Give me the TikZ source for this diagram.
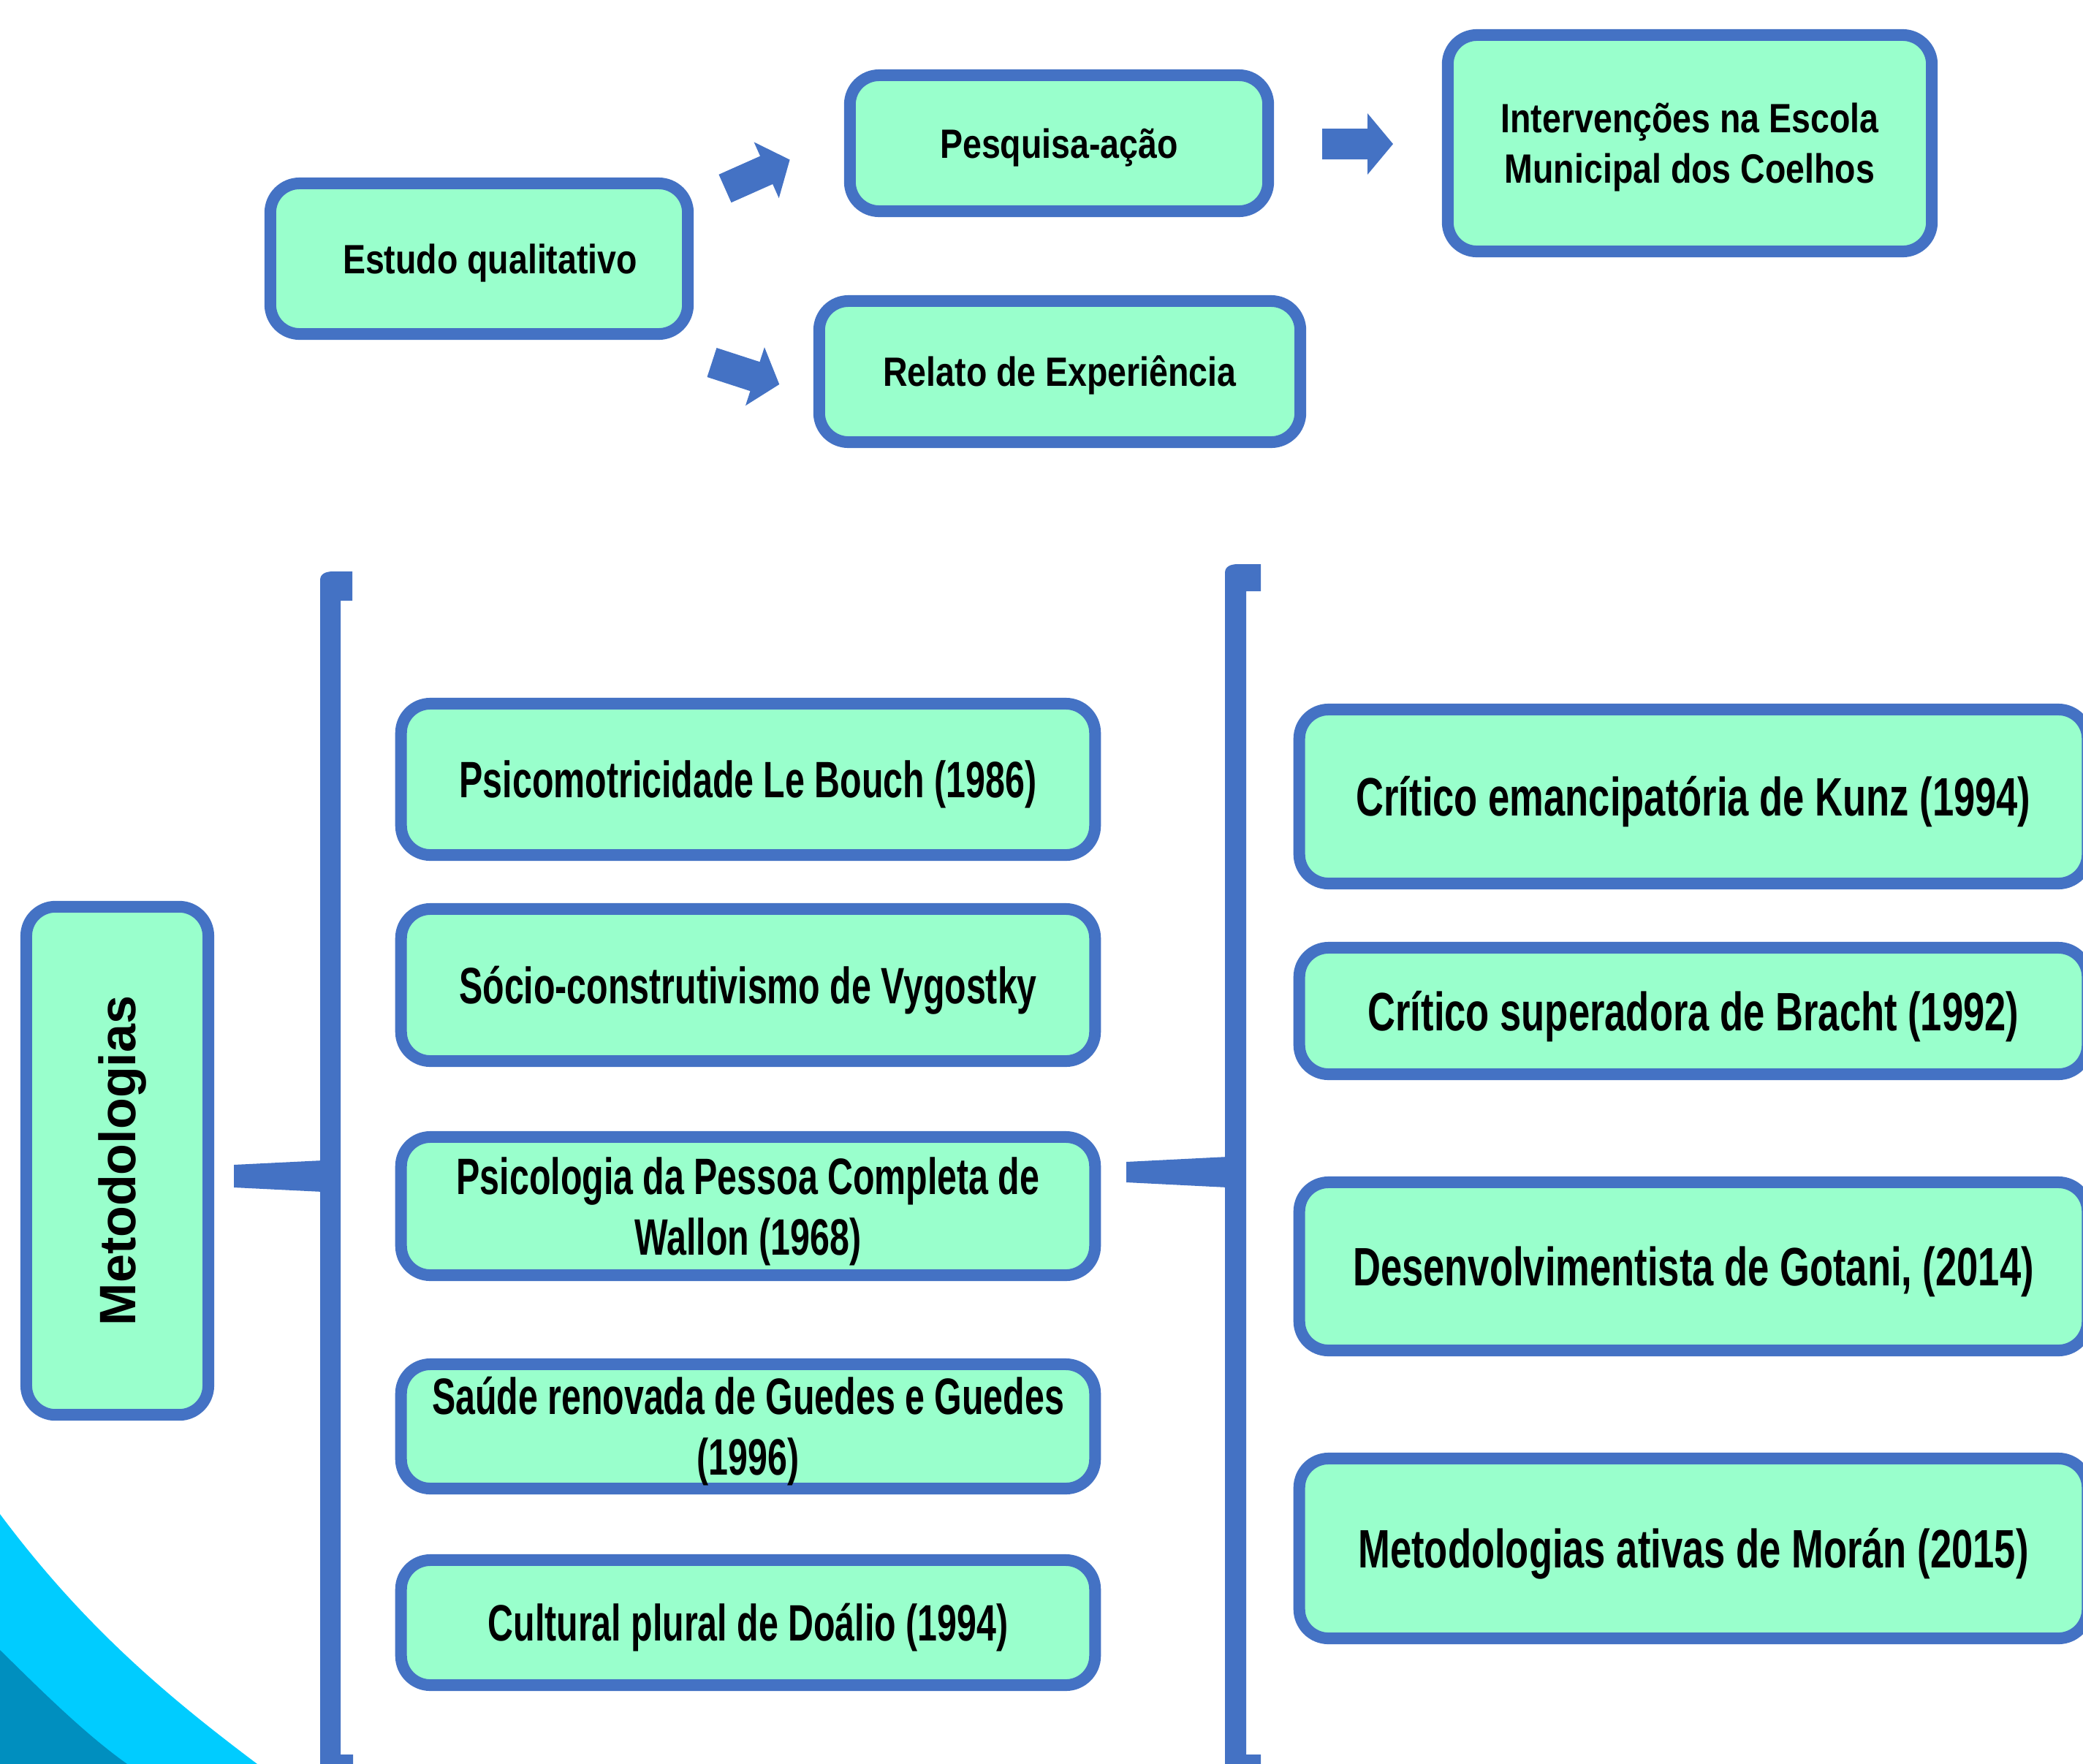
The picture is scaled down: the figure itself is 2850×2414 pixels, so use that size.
\documentclass[tikz,border=0pt]{standalone}
\usepackage{fontspec}
\usepackage{graphicx}
\usetikzlibrary{calc}
\setmainfont{Liberation Sans}
\newfontfamily\topfont[FakeStretch=0.83]{Liberation Sans}
\newfontfamily\leftfont[FakeStretch=0.69]{Liberation Sans}
\newfontfamily\rightfont[FakeStretch=0.71]{Liberation Sans}
\definecolor{boxblue}{HTML}{4472C4}
\definecolor{boxgreen}{HTML}{99FFCC}
\definecolor{decocyan}{HTML}{00CCFF}
\definecolor{decodark}{HTML}{008FBF}
\begin{document}
\begin{tikzpicture}[x=0.01cm,y=-0.01cm,
  box/.style={draw=boxblue, fill=boxgreen, line width=0.16cm, rounded corners=0.4cm,
    align=center, inner sep=0pt},
  toptxt/.style={font={\topfont\bfseries\fontsize{15.93pt}{19.35pt}\selectfont},
    text height=0.50cm, text depth=0.10cm},
  toptwo/.style={toptxt, text height=1.18cm},
  lefttxt/.style={font={\leftfont\bfseries\fontsize{19.92pt}{23.6pt}\selectfont},
    text height=0.63cm, text depth=0.13cm},
  lefttwo/.style={lefttxt, text height=1.46cm},
  righttxt/.style={font={\rightfont\bfseries\fontsize{21.05pt}{25pt}\selectfont},
    text height=0.666cm, text depth=0.136cm},
  metotxt/.style={font={\bfseries\fontsize{19.92pt}{24pt}\selectfont}},
  blockarrow/.pic={\fill[boxblue] (0,-21) -- (62,-21) -- (62,-42) -- (97,0) -- (62,42) -- (62,21) -- (0,21) -- cycle;}
]
\useasboundingbox (0,0) rectangle (2850,2414);
\fill[white] (0,0) rectangle (2850,2414);

% corner decoration
\fill[decocyan] (0,2072) .. controls (117,2229) and (235,2326) .. (352,2414) -- (0,2414) -- cycle;
\fill[decodark] (0,2258) .. controls (55,2312) and (115,2372) .. (174,2414) -- (0,2414) -- cycle;

% top row
\node[box, toptxt, minimum width=5.71cm, minimum height=2.06cm] (estudo) at (655.5,354) {\hspace{0.3cm}Estudo qualitativo};
\node[box, toptxt, minimum width=5.72cm, minimum height=1.86cm] (pesq) at (1449,196) {Pesquisa-ação};
\node[box, toptxt, minimum width=6.58cm, minimum height=1.93cm] (relato) at (1450,508.5) {Relato de Experiência};
\node[box, toptwo, minimum width=6.62cm, minimum height=2.96cm] (interv) at (2312,196) {Intervenções na Escola\\Municipal dos Coelhos};

\pic[rotate=24] at (992,258) {blockarrow};
\pic[rotate=-18] at (974,496) {blockarrow};
\pic at ($(pesq.east)!0.5!(interv.west)+(-49,1)$) {blockarrow};

% Metodologias
\node[box, metotxt, minimum width=2.49cm, minimum height=6.95cm] (meto) at (160.5,1588.5) {\rotatebox{90}{\raisebox{0pt}[0.63cm][0.13cm]{Metodologias}}};

% left column
\node[box, lefttxt, minimum width=9.49cm, minimum height=2.07cm] (l1) at (1023.5,1066.5) {Psicomotricidade Le Bouch (1986)};
\node[box, lefttxt, minimum width=9.49cm, minimum height=2.08cm] (l2) at (1023.5,1348) {Sócio-construtivismo de Vygostky};
\node[box, lefttwo, minimum width=9.49cm, minimum height=1.89cm] (l3) at (1023.5,1650.5) {Psicologia da Pessoa Completa de\\Wallon (1968)};
\node[box, lefttwo, minimum width=9.49cm, minimum height=1.70cm] (l4) at (1023.5,1952) {Saúde renovada de Guedes e Guedes\\(1996)};
\node[box, lefttxt, minimum width=9.49cm, minimum height=1.71cm] (l5) at (1023.5,2220.5) {Cultural plural de Doálio (1994)};

% right column
\node[box, righttxt, minimum width=10.78cm, minimum height=2.38cm] (r1) at (2317,1090) {Crítico emancipatória de Kunz (1994)};
\node[box, righttxt, minimum width=10.78cm, minimum height=1.73cm] (r2) at (2317,1383.5) {Crítico superadora de Bracht (1992)};
\node[box, righttxt, minimum width=10.78cm, minimum height=2.30cm] (r3) at (2317,1733) {Desenvolvimentista de Gotani, (2014)};
\node[box, righttxt, minimum width=10.78cm, minimum height=2.46cm] (r4) at (2317,2119) {Metodologias ativas de Morán (2015)};

% brackets
\fill[boxblue] (438,2440) -- (438,794) .. controls (438,785) and (446,782) .. (456,782) -- (482,782) -- (482,822) -- (466,822) -- (466,2401) -- (483,2401) -- (483,2440) -- cycle;
\fill[boxblue] (1676,2440) -- (1676,784) .. controls (1676,775) and (1684,772) .. (1694,772) -- (1725,772) -- (1725,809) -- (1705,809) -- (1705,2401) -- (1725,2401) -- (1725,2440) -- cycle;

% connectors
\coordinate (lbar) at (438,1609.5);
\coordinate (mstart) at (1541,1604);
\coordinate (rbar) at (1676,1604);
\fill[boxblue] ($(meto.east)+(27,5.5)$) -- ($(lbar)+(4,-21.5)$) -- ($(lbar)+(4,21.5)$) -- ($(meto.east)+(27,36.5)$) -- cycle;
\fill[boxblue] ($(mstart)+(0,-14)$) -- ($(rbar)+(4,-21)$) -- ($(rbar)+(4,21)$) -- ($(mstart)+(0,14)$) -- cycle;
\end{tikzpicture}
\end{document}
